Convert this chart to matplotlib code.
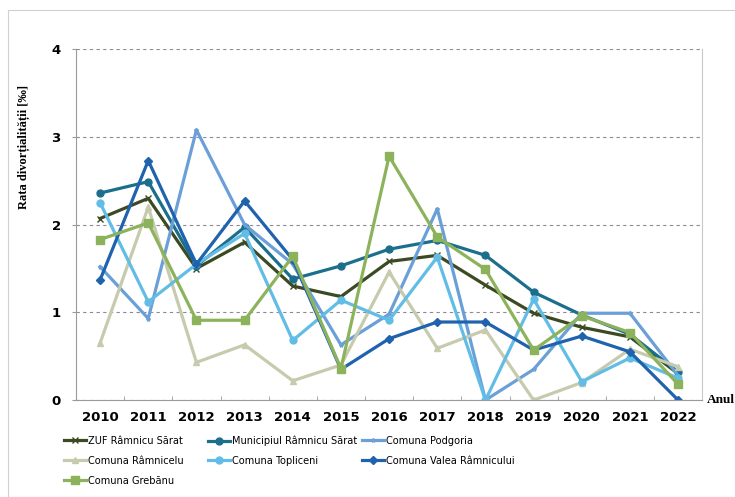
import numpy as np
import matplotlib
matplotlib.use("Agg")
import matplotlib.pyplot as plt
from matplotlib.patches import Rectangle

years = ["2010", "2011", "2012", "2013", "2014", "2015", "2016",
         "2017", "2018", "2019", "2020", "2021", "2022"]

zuf = [2.07, 2.30, 1.50, 1.80, 1.30, 1.18, 1.58, 1.65, 1.31, 0.99, 0.83, 0.72, 0.30]
municipiul = [2.36, 2.49, 1.53, 1.97, 1.38, 1.53, 1.72, 1.82, 1.65, 1.23, 0.97, 0.75, 0.32]
podgoria = [1.52, 0.93, 3.08, 2.00, 1.55, 0.63, 0.98, 2.18, 0.0, 0.35, 0.99, 0.99, 0.28]
ramnicelu = [0.65, 2.20, 0.43, 0.63, 0.22, 0.40, 1.46, 0.59, 0.80, 0.0, 0.20, 0.58, 0.38]
topliceni = [2.25, 1.12, 1.55, 1.90, 0.68, 1.14, 0.91, 1.63, 0.0, 1.15, 0.21, 0.48, 0.25]
valea = [1.37, 2.73, 1.55, 2.27, 1.60, 0.35, 0.70, 0.89, 0.89, 0.57, 0.73, 0.55, 0.0]
grebanu = [1.83, 2.02, 0.91, 0.91, 1.64, 0.36, 2.78, 1.86, 1.49, 0.57, 0.96, 0.77, 0.18]

series = [
    ("ZUF Râmnicu Sărat", zuf, "#3b4a22", "x", 5),
    ("Municipiul Râmnicu Sărat", municipiul, "#1c6f8c", "o", 5),
    ("Comuna Podgoria", podgoria, "#6a9fd8", "*", 3),
    ("Comuna Râmnicelu", ramnicelu, "#c6cbad", "^", 4),
    ("Comuna Topliceni", topliceni, "#62bde6", "o", 5),
    ("Comuna Valea Râmnicului", valea, "#1f62ad", "D", 4),
    ("Comuna Grebănu", grebanu, "#8cb35c", "s", 6),
]

fig = plt.figure(figsize=(7.35, 4.97), dpi=100)
ax = fig.add_axes([0.1034, 0.195, 0.852, 0.706])

x = np.arange(len(years))
handles = []
for name, vals, col, mk, ms in series:
    ln, = ax.plot(x, vals, color=col, lw=2.3, marker=mk, markersize=ms,
                  markeredgecolor=col, markerfacecolor=col, label=name)
    handles.append(ln)

ax.set_xlim(-0.5, len(years) - 0.5)
ax.set_ylim(0, 4)
ax.set_yticks([0, 1, 2, 3, 4])
ax.set_xticks(x)
ax.set_xticklabels(years, fontsize=9.5, fontweight="bold")
ax.set_yticklabels(["0", "1", "2", "3", "4"], fontsize=9.5, fontweight="bold")
ax.set_xticks(np.arange(-0.5, len(years), 1), minor=True)
ax.tick_params(axis="x", which="major", length=0, pad=8)
ax.tick_params(axis="x", which="minor", length=3, color="#9a9a9a", direction="in")
ax.tick_params(axis="y", length=3, color="#9a9a9a", pad=8)
ax.grid(axis="y", linestyle=(0, (3, 3)), color="#8a8a9a", lw=0.8)
ax.set_axisbelow(True)
for s in ["left", "bottom"]:
    ax.spines[s].set_color("#9a9a9a")
ax.spines["top"].set_visible(False)
ax.spines["right"].set_color("#c8c8c8")

ax.set_ylabel("Rata divorțialității [‰]", fontsize=9, fontweight="bold",
              family="Liberation Serif")
ax.yaxis.set_label_coords(-0.073, 0.72)
fig.text(0.962, 0.195, "Anul", fontsize=9.5, fontweight="bold",
         family="Liberation Serif", va="center", ha="left")

# legend: three single-column legends so rows read left to right
cols = [[0, 3, 6], [1, 4], [2, 5]]
col_x = [64, 208, 362]
for idx, cx in zip(cols, col_x):
    leg = fig.legend(handles=[handles[i] for i in idx], loc="upper left",
                     bbox_to_anchor=(cx / 735, 1 - 436 / 497), ncol=1,
                     frameon=False,
                     prop={"family": "DejaVu Sans", "size": 7.8,
                           "stretch": "condensed"},
                     handlelength=2.0, handletextpad=0.2,
                     labelspacing=0.9, borderaxespad=0, borderpad=0)

fig.patches.append(Rectangle((0.011, 0.0), 0.989, 0.98, transform=fig.transFigure,
                             fill=False, edgecolor="#d0d0d0", lw=0.8))

fig.savefig("out.png", dpi=100)
